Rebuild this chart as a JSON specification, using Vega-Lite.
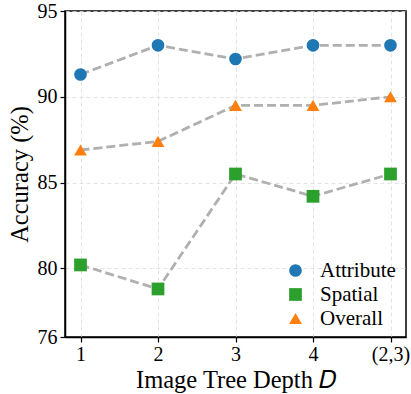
{
  "$schema": "https://vega.github.io/schema/vega-lite/v6.json",
  "width": 341,
  "height": 326,
  "autosize": "none",
  "padding": {"left": 65, "top": 11, "right": 5, "bottom": 57},
  "background": "white",
  "config": {
    "view": {"stroke": "black", "strokeWidth": 1.5},
    "font": "Liberation Serif",
    "axis": {
      "labelFont": "Liberation Serif",
      "titleFont": "Liberation Serif",
      "labelFontSize": 20,
      "titleFontSize": 24.5,
      "titleFontWeight": "normal",
      "labelColor": "black",
      "titleColor": "black",
      "tickColor": "black",
      "tickSize": 5,
      "tickWidth": 1.2,
      "domainColor": "black",
      "domainWidth": 1.5,
      "gridColor": "#dcdcdc",
      "gridDash": [4, 3],
      "gridWidth": 0.8
    },
    "legend": {
      "labelFont": "Liberation Serif",
      "labelFontSize": 21,
      "labelColor": "black"
    }
  },
  "data": {
    "values": [
      {"depth": "1", "series": "Attribute", "acc": 91.3},
      {"depth": "2", "series": "Attribute", "acc": 93.0},
      {"depth": "3", "series": "Attribute", "acc": 92.2},
      {"depth": "4", "series": "Attribute", "acc": 93.0},
      {"depth": "(2,3)", "series": "Attribute", "acc": 93.0},
      {"depth": "1", "series": "Spatial", "acc": 80.2},
      {"depth": "2", "series": "Spatial", "acc": 78.8},
      {"depth": "3", "series": "Spatial", "acc": 85.5},
      {"depth": "4", "series": "Spatial", "acc": 84.2},
      {"depth": "(2,3)", "series": "Spatial", "acc": 85.5},
      {"depth": "1", "series": "Overall", "acc": 86.9},
      {"depth": "2", "series": "Overall", "acc": 87.4},
      {"depth": "3", "series": "Overall", "acc": 89.5},
      {"depth": "4", "series": "Overall", "acc": 89.5},
      {"depth": "(2,3)", "series": "Overall", "acc": 90.0}
    ]
  },
  "encoding": {
    "x": {
      "field": "depth",
      "type": "ordinal",
      "sort": ["1", "2", "3", "4", "(2,3)"],
      "scale": {"type": "point", "padding": 0.2},
      "axis": {"title": "Image Tree Depth 𝐷", "labelAngle": 0, "labelPadding": 2, "titlePadding": 4, "grid": true}
    },
    "y": {
      "field": "acc",
      "type": "quantitative",
      "scale": {"domain": [76, 95], "nice": false, "zero": false},
      "axis": {"title": "Accuracy (%)", "values": [76, 80, 85, 90, 95], "labelPadding": 3, "titlePadding": 5, "grid": true}
    }
  },
  "layer": [
    {
      "mark": {"type": "line", "color": "#b0b0b0", "strokeWidth": 2.8, "strokeDash": [9, 4]},
      "encoding": {"detail": {"field": "series"}}
    },
    {
      "mark": {"type": "point", "filled": true, "opacity": 1},
      "encoding": {
        "color": {
          "field": "series",
          "type": "nominal",
          "scale": {"domain": ["Attribute", "Spatial", "Overall"], "range": ["#1f77b4", "#2ca02c", "#ff7f0e"]},
          "legend": {"title": null, "orient": "none", "legendX": 220, "legendY": 249, "rowPadding": 2, "labelOffset": 14}
        },
        "shape": {
          "field": "series",
          "type": "nominal",
          "scale": {"domain": ["Attribute", "Spatial", "Overall"], "range": ["circle", "square", "triangle-up"]}
        },
        "size": {
          "field": "series",
          "type": "nominal",
          "scale": {"domain": ["Attribute", "Spatial", "Overall"], "range": [160, 165, 230]}
        }
      }
    }
  ]
}
